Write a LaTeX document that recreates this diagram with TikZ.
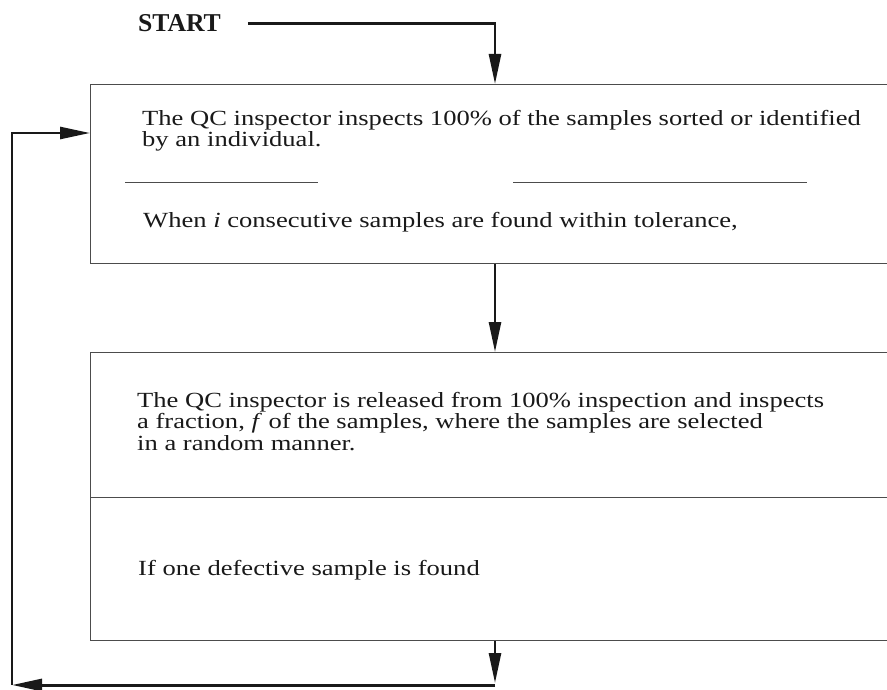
\documentclass[tikz,border=0pt]{standalone}
\usepackage{fontspec}
\usepackage{tikz}
\usetikzlibrary{arrows.meta,positioning,calc}
\newfontfamily\boxfont[FakeStretch=1.23]{Liberation Serif}
\newfontfamily\startfont{Liberation Serif}

\begin{document}
\begin{tikzpicture}[x=1pt,y=-1pt,>={Triangle[length=30pt,width=12pt]},
  txt/.style={anchor=base west,inner sep=0pt,text=black!90,
    font=\boxfont\fontsize{21.6pt}{21pt}\selectfont},
  panel/.style={draw=black!70,line width=0.9pt,anchor=north west,
    minimum width=840pt,inner sep=0pt},
  flow/.style={->,line width=2.6pt,black!90},
  divider/.style={draw=black!70,line width=0.9pt}]
\useasboundingbox (0,0) rectangle (887,690);
\clip (0,0) rectangle (887,690);

\node[anchor=base west,inner sep=0pt,outer xsep=27pt,text=black!90,
  font=\startfont\bfseries\fontsize{25.7pt}{26pt}\selectfont] (start) at (111,32) {START};

% first box: full inspection
\node[panel,minimum height=179pt] (box1) at (90,84) {};
\node[txt] (q1a) at (142,126) {The QC inspector inspects 100\% of the samples sorted or identified};
\node[txt] (q1b) at (142,147) {by an individual.};
\draw[divider] (125,182) -- (318,182);
\draw[divider] (513,182) -- (807,182);
\node[txt] (q1c) at (143,228) {When \textit{i} consecutive samples are found within tolerance,};

% second box: sampling
\node[panel,minimum height=288pt] (box2) at (90,352) {};
\node[txt] (q2a) at (137,407) {The QC inspector is released from 100\% inspection and inspects};
\node[txt] (q2b) at (137,428) {a fraction, \textit{f} of the samples, where the samples are selected};
\node[txt] (q2c) at (137,450) {in a random manner.};
\draw[divider] (box2.west |- 0,497) -- (887,497);
\node[txt] (q2d) at (138,575) {If one defective sample is found};

% connectors
\coordinate (axis) at (495,0);
\coordinate (ret) at (495,685);
\coordinate (corner) at (12,685);
\coordinate (entry) at (90,133);
\draw[flow] (start.east) -| (box1.north -| axis);
\draw[flow] (box1.south -| axis) -- (box2.north -| axis);
\draw[flow,shorten >=2pt] (box2.south -| axis) -- (ret);
\draw[flow,line width=3pt] (ret) -- (corner);
\draw[flow] (corner) |- (entry);
\end{tikzpicture}
\end{document}
